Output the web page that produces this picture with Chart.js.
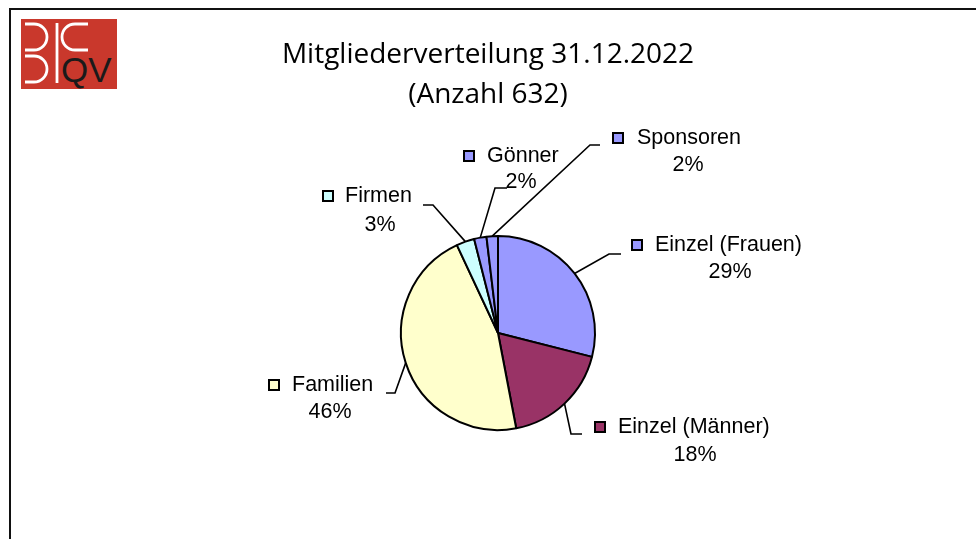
<!DOCTYPE html>
<html>
<head>
<meta charset="utf-8">
<script src="https://cdn.jsdelivr.net/npm/chart.js@4.4.0/dist/chart.umd.min.js"></script>
<style>
body{margin:0;background:#fff;overflow:hidden;}
#frame{position:absolute;left:9px;top:8px;width:1000px;height:600px;border-top:2px solid #111;border-left:2px solid #111;}
#logo{position:absolute;left:21px;top:19px;}
#wrap{position:absolute;left:0;top:0;width:976px;height:539px;}
</style>
</head>
<body>
<div id="frame"></div>
<svg id="logo" width="96" height="70" viewBox="21 19 96 70">
  <rect x="21" y="19" width="96" height="70" fill="#c9382c"/>
  <g fill="none" stroke="#fff" stroke-width="2.8">
    <path d="M25,24 H34 A13,13 0 0 1 34,50 H25"/>
    <path d="M25,56 H34 A13,13 0 0 1 34,82 H25"/>
    <path d="M88,24 H75 A13,13 0 0 0 75,50 H88"/>
    <path d="M57,23 V83"/>
  </g>
  <text x="61" y="82" font-family="Liberation Sans" font-size="35" fill="#1a1a1a">QV</text>
</svg>
<div id="wrap"><canvas id="chart" width="976" height="539"></canvas></div>
<script>
// Mitglieder 31.12.2022 (gesamt 632)
var labels = ['Einzel (Frauen)', 'Einzel (Männer)', 'Familien', 'Firmen', 'Gönner', 'Sponsoren'];
var counts = [183, 114, 291, 19, 13, 12];
var percents = ['29%', '18%', '46%', '3%', '2%', '2%'];
var colors = ['#9999ff', '#993366', '#ffffcc', '#ccffff', '#9999ff', '#9999ff'];
var titleLines = ['Mitgliederverteilung 31.12.2022', '(Anzahl 632)'];

// Lage der Beschriftungen (Kästchen, Text, Prozent, Knick der Führungslinie)
var labelPos = [
	{sq:632, y:245, tx:655, px:730, py:272, ex:609, ey:254, end:621},
	{sq:595, y:427, tx:618, px:695, py:455, ex:571, ey:434, end:582},
	{sq:269, y:385, tx:292, px:330, py:412, ex:395, ey:393, end:386},
	{sq:323, y:196, tx:345, px:380, py:225, ex:433, ey:205, end:423},
	{sq:464, y:156, tx:487, px:521, py:182, ex:495, ey:188, end:507},
	{sq:613, y:138, tx:637, px:688, py:165, ex:590, ey:145, end:600}
];

const labelPlugin = {
	id: 'pieLabels',
	afterDraw: function(chart){
		const ctx = chart.ctx;
		ctx.save();
		// Titel
		ctx.fillStyle = '#000';
		ctx.textAlign = 'center';
		ctx.textBaseline = 'middle';
		ctx.font = '28px "Open Sans"';
		ctx.fillText(titleLines[0], 488, 55);
		ctx.fillText(titleLines[1], 488, 95);

		const meta = chart.getDatasetMeta(0);
		ctx.font = '21.5px "Liberation Sans"';
		for(var i=0; i<labels.length; i++){
			var arc = meta.data[i];
			var p = labelPos[i];
			var mid = (arc.startAngle + arc.endAngle) / 2;
			var sx = arc.x + Math.cos(mid) * arc.outerRadius;
			var sy = arc.y + Math.sin(mid) * arc.outerRadius;
			ctx.strokeStyle = '#000';
			ctx.lineWidth = 1.6;
			ctx.beginPath();
			ctx.moveTo(sx, sy);
			ctx.lineTo(p.ex, p.ey);
			ctx.lineTo(p.end, p.ey);
			ctx.stroke();

			ctx.fillStyle = colors[i];
			ctx.fillRect(p.sq, p.y - 5, 10, 10);
			ctx.lineWidth = 2;
			ctx.strokeRect(p.sq, p.y - 5, 10, 10);

			ctx.fillStyle = '#000';
			ctx.textAlign = 'left';
			ctx.fillText(labels[i], p.tx, p.y);
			ctx.textAlign = 'center';
			ctx.fillText(percents[i], p.px, p.py);
		}
		ctx.restore();
	}
};

const data = {
	labels: labels,
	datasets: [{
		data: counts,
		backgroundColor: colors,
		borderColor: '#000',
		borderWidth: 2
	}]
};

const config = {
	type: 'pie',
	data: data,
	options: {
		responsive: false,
		animation: false,
		layout: {
			padding: {left: 400, right: 380, top: 235, bottom: 108}
		},
		plugins: {
			legend: {display: false},
			tooltip: {enabled: false}
		}
	},
	plugins: [labelPlugin]
};
const myChart = new Chart(document.getElementById('chart'), config);
</script>
</body>
</html>
